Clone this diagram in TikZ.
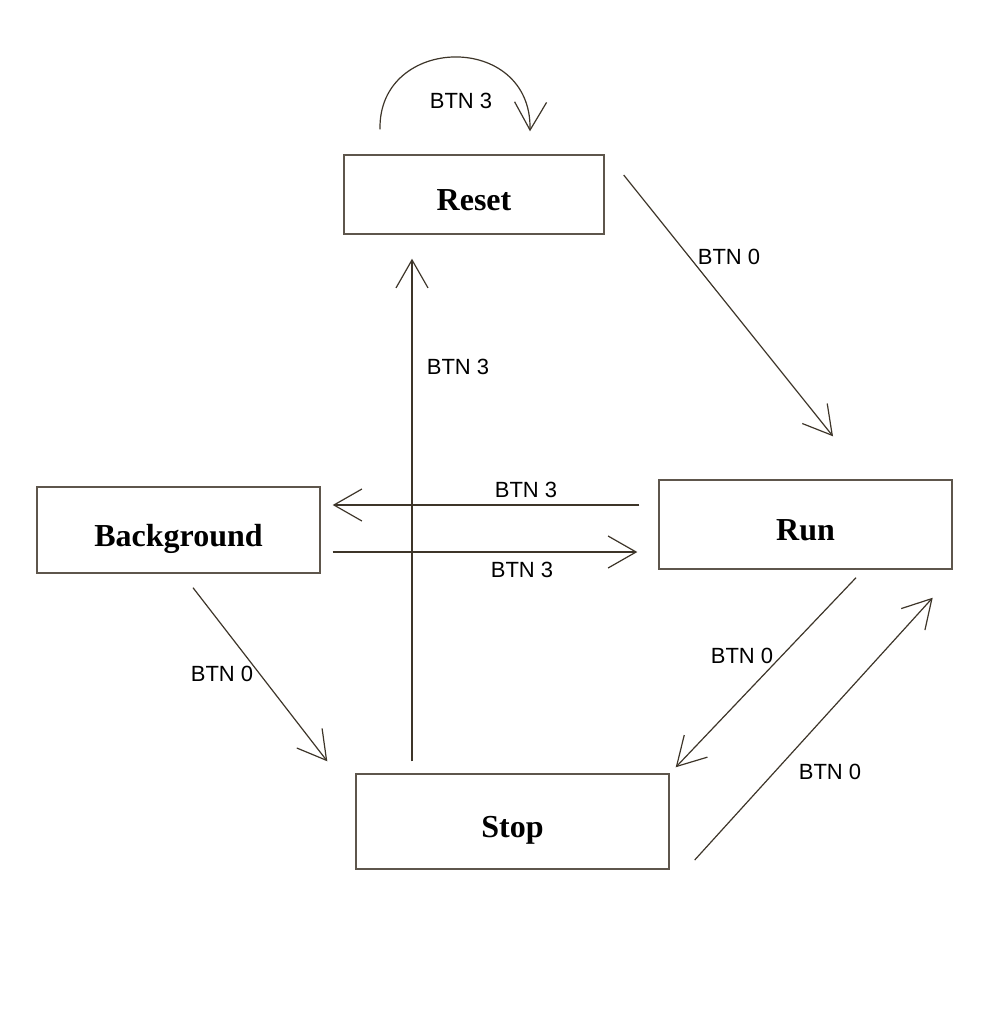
\documentclass[tikz,border=0pt]{standalone}
\usepackage{fontspec}
\setmainfont{Liberation Serif}
\newfontfamily\btnfont{Liberation Sans}
\usetikzlibrary{arrows.meta, positioning}

\definecolor{inkbrown}{HTML}{3D3529}
\definecolor{boxbrown}{HTML}{5E564C}

\begin{document}
\begin{tikzpicture}[x=1pt, y=-1pt,
    state/.style={draw=boxbrown, line width=1.4pt, inner sep=0pt,
        text height=32pt, text depth=0pt,
        font=\fontsize{32}{38}\selectfont\bfseries},
    trans/.style={draw=inkbrown, line width=1.2pt,
        -{Straight Barb[length=28pt, width=32pt]}},
    btn/.style={font=\btnfont\fontsize{22}{26}\selectfont, inner sep=0pt}]
        \useasboundingbox (0,0) rectangle (1000,1015);

        % States
        \node[state, minimum width=260pt, minimum height=79pt] (reset) at (474,194.5) {Reset};
        \node[state, minimum width=283pt, minimum height=86pt] (bground) at (178.5,530) {Background};
        \node[state, minimum width=293pt, minimum height=89pt] (run) at (805.5,524.5) {Run};
        \node[state, minimum width=313pt, minimum height=95pt] (stop) at (512.5,821.5) {Stop};

        % Self loop on Reset
        \draw[trans] ([shift={(-94,-25)}]reset.north) .. controls +(-2,-95) and +(2,-100) .. ([shift={(56,-23)}]reset.north);
        \node[btn] (lloop) at (461,101) {BTN 3};

        % Transitions
        \draw[trans] ([shift={(19,-19.5)}]reset.east) -- ([shift={(27.5,-43)}]run.north);
        \node[btn] (lresetrun) at (729,257) {BTN 0};

        \draw[trans] ([shift={(-100.5,-12)}]stop.north) -- ([shift={(-62,24)}]reset.south);
        \node[btn] (lstopreset) at (458,367) {BTN 3};

        \draw[trans] ([shift={(-19,-19.5)}]run.west) -- ([shift={(12,-25)}]bground.east);
        \node[btn] (lrunbg) at (526,490) {BTN 3};

        \draw[trans] ([shift={(12,22)}]bground.east) -- ([shift={(-21,27.5)}]run.west);
        \node[btn] (lbgrun) at (522,570) {BTN 3};

        \draw[trans] ([shift={(14.5,14)}]bground.south) -- ([shift={(-28,-12)}]stop.north west);
        \node[btn] (lbgstop) at (222,674) {BTN 0};

        \draw[trans] ([shift={(50.5,8)}]run.south) -- ([shift={(6,-6)}]stop.north east);
        \node[btn] (lrunstop) at (742,656) {BTN 0};

        \draw[trans] ([shift={(25,38.5)}]stop.east) -- ([shift={(-20,28)}]run.south east);
        \node[btn] (lstoprun) at (830,772) {BTN 0};
    \end{tikzpicture}
\end{document}
